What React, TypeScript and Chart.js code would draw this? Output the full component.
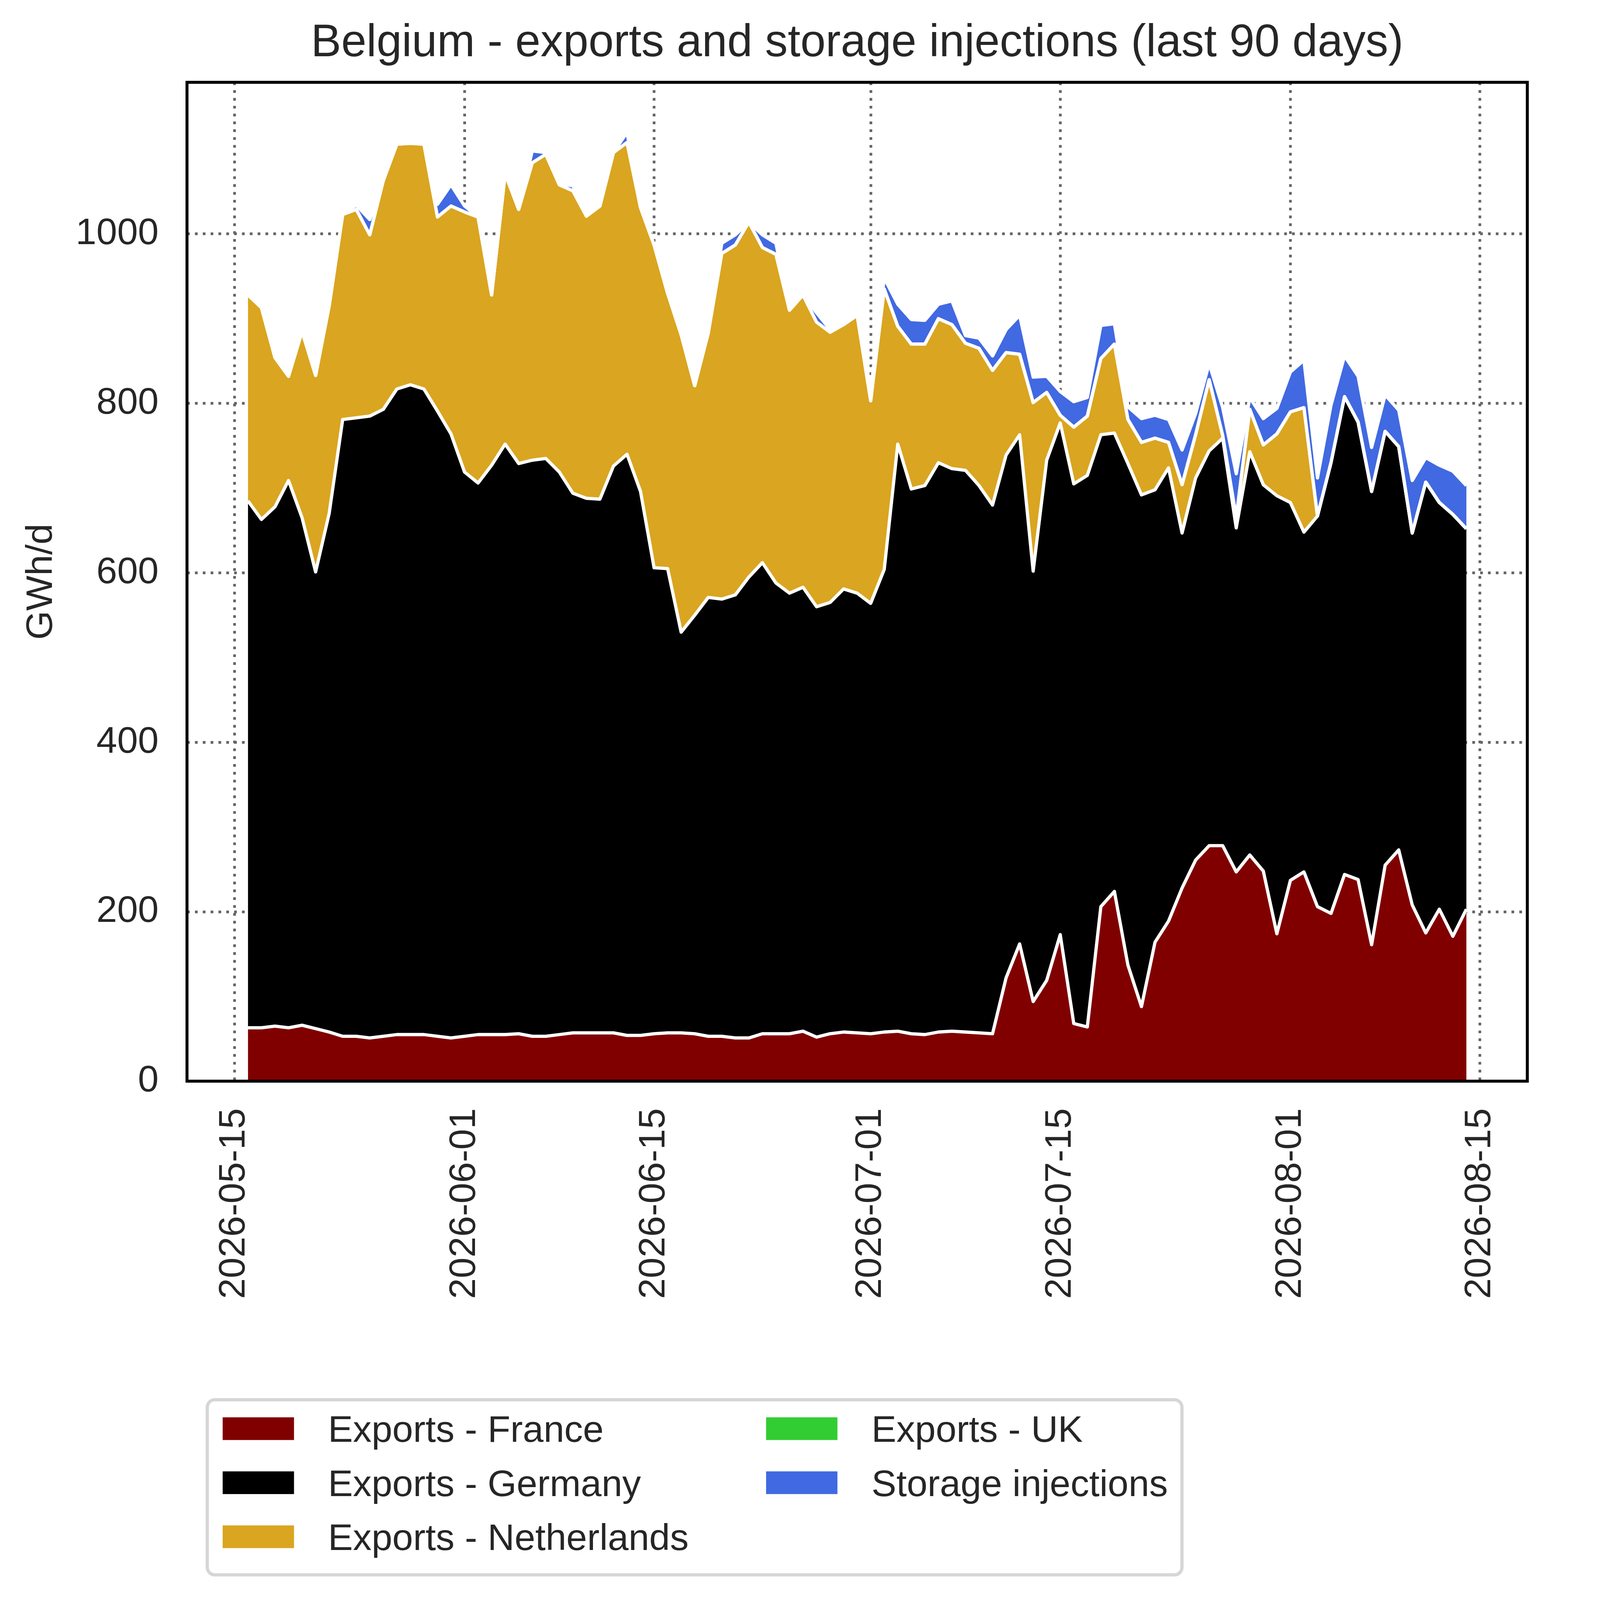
import React, { useEffect, useRef } from 'react';
import { Chart, ChartConfiguration, registerables, Plugin } from 'chart.js';

Chart.register(...registerables);

// first day of the series (one value per day)
const START_DATE = '2026-05-16';

const franceExports = [
  63, 63, 65, 63, 66, 62, 58, 53, 53, 51,
  53, 55, 55, 55, 53, 51, 53, 55, 55, 55,
  56, 53, 53, 55, 57, 57, 57, 57, 54, 54,
  56, 57, 57, 56, 53, 53, 51, 51, 56, 56,
  56, 59, 52, 56, 58, 57, 56, 58, 59, 56,
  55, 58, 59, 58, 57, 56, 122, 162, 94, 119,
  173, 68, 64, 206, 224, 137, 88, 164, 189, 228,
  261, 278, 278, 247, 267, 248, 174, 237, 247, 206,
  198, 244, 238, 161, 255, 273, 208, 175, 203, 171, 203,
];

const germanyExports = [
  622, 600, 613, 646, 599, 539, 612, 728, 730, 734,
  740, 762, 767, 762, 738, 713, 666, 651, 672, 697,
  673, 680, 682, 664, 637, 631, 630, 669, 686, 642,
  550, 548, 473, 494, 518, 516, 523, 544, 556, 532,
  520, 524, 508, 509, 523, 519, 508, 546, 693, 643,
  648, 672, 664, 663, 646, 624, 617, 601, 508, 614,
  604, 637, 651, 557, 541, 592, 604, 534, 535, 419,
  451, 466, 481, 406, 476, 456, 517, 446, 401, 461,
  532, 564, 540, 535, 512, 476, 439, 532, 480, 498, 449,
];

const netherlandsExports = [
  243, 250, 176, 123, 220, 232, 245, 242, 246, 214,
  270, 289, 285, 289, 229, 269, 307, 314, 201, 319,
  300, 351, 359, 339, 357, 333, 346, 370, 368, 335,
  381, 325, 351, 271, 312, 408, 413, 419, 372, 388,
  334, 345, 336, 319, 312, 328, 239, 331, 139, 171,
  167, 170, 170, 150, 162, 159, 121, 95, 199, 80,
  9, 67, 70, 90, 105, 52, 62, 61, 30, 57,
  51, 84, 3, 12, 50, 47, 73, 107, 147, 0,
  0, 0, 0, 0, 0, 0, 0, 0, 0, 0, 0,
];

const ukExports = [
  0, 0, 0, 0, 0, 0, 0, 0, 0, 0,
  0, 0, 0, 0, 0, 0, 0, 0, 0, 0,
  0, 0, 0, 0, 0, 0, 0, 0, 0, 0,
  0, 0, 0, 0, 0, 0, 0, 0, 0, 0,
  0, 0, 0, 0, 0, 0, 0, 0, 0, 0,
  0, 0, 0, 0, 0, 0, 0, 0, 0, 0,
  0, 0, 0, 0, 0, 0, 0, 0, 0, 0,
  0, 0, 0, 0, 0, 0, 0, 0, 0, 0,
  0, 0, 0, 0, 0, 0, 0, 0, 0, 0, 0,
];

const storageInjections = [
  0, 0, 0, 0, 0, 0, 0, 0, 5, 18,
  0, 3, 3, 2, 15, 25, 7, 0, 0, 0,
  0, 14, 2, 1, 6, 0, 0, 0, 12, 0,
  0, 0, 0, 0, 0, 12, 12, 0, 15, 13,
  0, 0, 11, 3, 0, 0, 12, 13, 26, 29,
  28, 17, 28, 9, 12, 17, 27, 46, 30, 19,
  28, 30, 22, 39, 24, 15, 28, 27, 27, 41,
  25, 19, 33, 52, 14, 31, 30, 47, 56, 45,
  68, 48, 54, 52, 43, 43, 62, 29, 44, 51, 51,
];

const seriesLabels = [
  'Exports - France',
  'Exports - Germany',
  'Exports - Netherlands',
  'Exports - UK',
  'Storage injections',
];
const seriesColors = ['#800000', '#000000', '#daa520', '#32cd32', '#4169e1'];

const xTickLabels = ['2026-05-15', '2026-06-01', '2026-06-15', '2026-07-01', '2026-07-15', '2026-08-01', '2026-08-15'];
const yTickValues = [0, 200, 400, 600, 800, 1000];

// reference picture size; everything below is laid out in these pixels and scaled to the window
const W = 5752;
const H = 5921;
const FONT = "'Liberation Sans', Arial, sans-serif";
const TEXT = '#262626';

const dayNum = (iso: string) => {
  const [y, m, d] = iso.split('-').map(Number);
  return Date.UTC(y, m - 1, d) / 86400000;
};

const App: React.FC = () => {
  const chartRef = useRef<HTMLCanvasElement>(null);
  const chartInstanceRef = useRef<Chart | null>(null);
  const k = Math.min(window.innerWidth / W, window.innerHeight / H);

  useEffect(() => {
    if (!chartRef.current) return;
    if (chartInstanceRef.current) chartInstanceRef.current.destroy();

    const px = (v: number) => v * k;
    const startDay = dayNum(START_DATE);
    const lastDay = startDay + franceExports.length - 1;
    const series = [franceExports, germanyExports, netherlandsExports, ukExports, storageInjections];

    // black frame round the plot, like matplotlib spines
    const framePlugin: Plugin = {
      id: 'frame',
      afterDatasetsDraw(chart) {
        const { ctx, chartArea: a } = chart;
        ctx.save();
        ctx.strokeStyle = '#000000';
        ctx.lineWidth = px(11);
        ctx.strokeRect(a.left, a.top, a.right - a.left, a.bottom - a.top);
        ctx.restore();
      },
    };

    // two-column boxed legend under the plot
    const boxLegendPlugin: Plugin = {
      id: 'boxLegend',
      afterDraw(chart) {
        const { ctx } = chart;
        ctx.save();
        ctx.beginPath();
        ctx.roundRect(px(767), px(5180), px(3607), px(648), px(28));
        ctx.fillStyle = '#ffffff';
        ctx.fill();
        ctx.lineWidth = px(12);
        ctx.strokeStyle = '#d6d6d6';
        ctx.stroke();

        const colPatchX = [824, 2835];
        const colTextX = [1214, 3225];
        const rowMid = [5287, 5487, 5687];
        ctx.font = `${px(138)}px ${FONT}`;
        ctx.textBaseline = 'alphabetic';
        ctx.textAlign = 'left';
        chart.data.datasets.forEach((ds, i) => {
          const col = i < 3 ? 0 : 1;
          const row = i < 3 ? i : i - 3;
          ctx.fillStyle = ds.backgroundColor as string;
          ctx.fillRect(px(colPatchX[col]), px(rowMid[row] - 42), px(264), px(84));
          ctx.fillStyle = TEXT;
          ctx.fillText(ds.label as string, px(colTextX[col]), px(rowMid[row] + 49));
        });
        ctx.restore();
      },
    };

    const gridOpts = { color: '#666666', lineWidth: px(10), drawTicks: false };
    const borderOpts = { display: false, dash: [px(10), px(19)] };
    const tickFont = { family: FONT, size: px(138) };

    const config: ChartConfiguration = {
      type: 'line',
      data: {
        datasets: series.map((vals, i) => ({
          label: seriesLabels[i],
          data: vals.map((v, j) => ({ x: startDay + j, y: v })),
          backgroundColor: seriesColors[i],
          borderColor: '#ffffff',
          borderWidth: px(12),
          borderJoinStyle: 'round',
          pointRadius: 0,
          pointHoverRadius: 0,
          tension: 0,
          fill: i === 0 ? 'origin' : '-1',
        })) as any,
      },
      options: {
        animation: false,
        responsive: true,
        maintainAspectRatio: false,
        events: [],
        layout: { padding: { top: 0, left: 0, right: px(100), bottom: 0 } },
        plugins: {
          legend: { display: false },
          tooltip: { enabled: false },
          filler: { drawTime: 'beforeDatasetsDraw' },
          title: {
            display: true,
            text: 'Belgium - exports and storage injections (last 90 days)',
            fullSize: false,
            color: TEXT,
            font: { family: FONT, size: px(168), weight: 'normal', lineHeight: 1.2 },
            padding: { top: px(61), bottom: px(42) },
          },
        } as any,
        scales: {
          x: {
            type: 'linear',
            min: startDay - 4.5,
            max: lastDay + 4.5,
            afterBuildTicks: (scale: any) => {
              scale.ticks = xTickLabels.map((l) => ({ value: dayNum(l) }));
            },
            afterFit: (scale: any) => {
              scale.height = px(H - 4001);
            },
            ticks: {
              autoSkip: false,
              minRotation: 90,
              maxRotation: 90,
              padding: px(100),
              color: TEXT,
              font: tickFont,
              callback: (value: any) => xTickLabels.find((l) => dayNum(l) === value) ?? '',
            },
            grid: gridOpts,
            border: borderOpts,
          },
          y: {
            stacked: true,
            min: 0,
            max: 1179,
            afterBuildTicks: (scale: any) => {
              scale.ticks = yTickValues.map((v) => ({ value: v }));
            },
            afterFit: (scale: any) => {
              scale.width = px(692);
            },
            ticks: { padding: px(105), color: TEXT, font: tickFont, callback: (value: any) => String(value) },
            title: {
              display: true,
              text: 'GWh/d',
              color: TEXT,
              font: tickFont,
              padding: { top: px(72), bottom: 0 },
            },
            grid: gridOpts,
            border: borderOpts,
          },
        } as any,
      },
      plugins: [framePlugin, boxLegendPlugin],
    };

    chartInstanceRef.current = new Chart(chartRef.current, config);

    return () => {
      if (chartInstanceRef.current) {
        chartInstanceRef.current.destroy();
        chartInstanceRef.current = null;
      }
    };
  }, [k]);

  return (
    <div style={{ position: 'fixed', left: 0, top: 0, width: W * k, height: H * k, background: '#ffffff' }}>
      <canvas ref={chartRef}></canvas>
    </div>
  );
};

export default App;
